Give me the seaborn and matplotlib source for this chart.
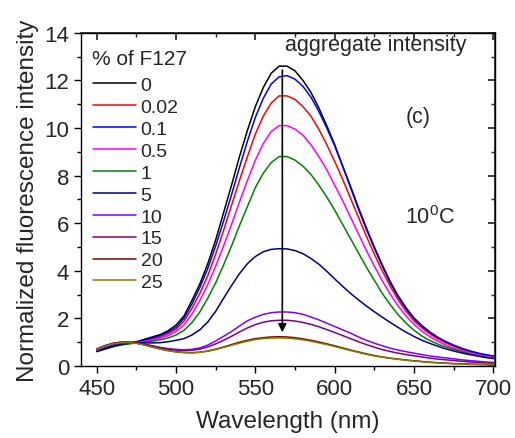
import numpy as np
import pandas as pd
import matplotlib
matplotlib.use("Agg")
import matplotlib.pyplot as plt
import seaborn as sns
from matplotlib.ticker import MultipleLocator

sns.set_theme(style="ticks")
plt.rcParams['font.family'] = ['Liberation Sans', 'DejaVu Sans']
plt.rcParams['mathtext.default'] = 'regular'

wavelength = list(range(450, 701, 5))

conc_labels = ["0", "0.02", "0.1", "0.5", "1", "5", "10", "15", "20", "25"]
colors = ["#000000", "#ff0000", "#0000ff", "#ff00ff", "#008000",
          "#000080", "#8000ff", "#800080", "#800000", "#808000"]

i_0 = [0.66, 0.76, 0.86, 0.93, 0.97, 1.02, 1.12, 1.22, 1.32, 1.48, 1.72, 2.1, 2.75, 3.45, 4.3, 5.3,
       6.45, 7.6, 8.8, 9.9, 10.9, 11.7, 12.3, 12.6, 12.6, 12.4, 12.0, 11.5, 10.85, 10.1, 9.3,
       8.4, 7.5, 6.6, 5.75, 4.95, 4.2, 3.5, 2.9, 2.4, 1.98, 1.66, 1.4, 1.18, 1.0, 0.85, 0.72,
       0.62, 0.53, 0.46, 0.41]
i_002 = [0.62, 0.72, 0.82, 0.9, 0.95, 0.99, 1.06, 1.14, 1.23, 1.36, 1.55, 1.88, 2.42, 3.05, 3.8, 4.7,
         5.7, 6.75, 7.8, 8.8, 9.75, 10.5, 11.05, 11.35, 11.35, 11.2, 10.9, 10.5, 9.95, 9.3, 8.6,
         7.85, 7.05, 6.25, 5.45, 4.7, 4.0, 3.35, 2.78, 2.3, 1.9, 1.6, 1.35, 1.14, 0.97, 0.83,
         0.7, 0.6, 0.51, 0.44, 0.38]
i_01 = [0.64, 0.74, 0.84, 0.92, 0.96, 1.0, 1.08, 1.18, 1.28, 1.42, 1.63, 2.0, 2.6, 3.3, 4.1, 5.05,
        6.1, 7.2, 8.35, 9.45, 10.45, 11.25, 11.85, 12.15, 12.2, 12.05, 11.75, 11.3, 10.7, 10.0,
        9.25, 8.4, 7.55, 6.65, 5.8, 5.0, 4.25, 3.55, 2.95, 2.45, 2.02, 1.7, 1.43, 1.21, 1.03,
        0.88, 0.75, 0.64, 0.55, 0.48, 0.42]
i_05 = [0.62, 0.72, 0.82, 0.9, 0.95, 0.98, 1.03, 1.09, 1.17, 1.28, 1.45, 1.72, 2.18, 2.75, 3.42, 4.2,
        5.05, 5.95, 6.9, 7.8, 8.65, 9.35, 9.85, 10.1, 10.1, 9.95, 9.7, 9.3, 8.8, 8.25, 7.6,
        6.95, 6.25, 5.55, 4.85, 4.2, 3.58, 3.02, 2.52, 2.1, 1.75, 1.46, 1.23, 1.04, 0.88, 0.75,
        0.64, 0.55, 0.47, 0.41, 0.35]
i_1 = [0.6, 0.7, 0.8, 0.88, 0.93, 0.96, 1.0, 1.04, 1.1, 1.18, 1.3, 1.5, 1.82, 2.27, 2.85, 3.5,
       4.25, 5.05, 5.9, 6.7, 7.5, 8.1, 8.55, 8.8, 8.8, 8.65, 8.4, 8.05, 7.6, 7.1, 6.55, 5.95,
       5.35, 4.75, 4.15, 3.6, 3.05, 2.58, 2.15, 1.8, 1.5, 1.26, 1.07, 0.92, 0.8, 0.7, 0.6,
       0.51, 0.43, 0.37, 0.32]
i_5 = [0.62, 0.72, 0.82, 0.9, 0.95, 0.97, 0.97, 0.97, 0.98, 1.02, 1.08, 1.15, 1.3, 1.52, 1.85, 2.3,
       2.85, 3.38, 3.88, 4.3, 4.6, 4.8, 4.9, 4.93, 4.92, 4.85, 4.72, 4.52, 4.28, 3.98, 3.66,
       3.35, 3.05, 2.78, 2.52, 2.28, 2.05, 1.83, 1.62, 1.42, 1.24, 1.08, 0.95, 0.83, 0.72, 0.63,
       0.55, 0.48, 0.42, 0.36, 0.31]
i_10 = [0.72, 0.85, 0.95, 1.0, 1.0, 0.97, 0.92, 0.85, 0.78, 0.73, 0.7, 0.68, 0.7, 0.76, 0.88, 1.05,
        1.25, 1.45, 1.68, 1.9, 2.05, 2.17, 2.24, 2.27, 2.27, 2.24, 2.17, 2.06, 1.94, 1.8, 1.66,
        1.52, 1.38, 1.22, 1.08, 0.96, 0.85, 0.75, 0.67, 0.6, 0.54, 0.48, 0.42, 0.38, 0.34, 0.3,
        0.26, 0.23, 0.2, 0.17, 0.15]
i_15 = [0.7, 0.84, 0.94, 1.0, 1.0, 0.97, 0.91, 0.84, 0.77, 0.71, 0.67, 0.65, 0.66, 0.71, 0.8, 0.93,
        1.08, 1.25, 1.43, 1.6, 1.74, 1.84, 1.9, 1.92, 1.92, 1.89, 1.83, 1.75, 1.65, 1.53, 1.41,
        1.28, 1.15, 1.02, 0.9, 0.79, 0.69, 0.61, 0.54, 0.48, 0.43, 0.38, 0.33, 0.29, 0.26, 0.23,
        0.2, 0.17, 0.15, 0.13, 0.12]
i_20 = [0.7, 0.84, 0.94, 0.99, 0.99, 0.96, 0.89, 0.8, 0.72, 0.65, 0.6, 0.57, 0.56, 0.58, 0.63, 0.71,
        0.8, 0.9, 1.0, 1.08, 1.15, 1.19, 1.22, 1.23, 1.22, 1.19, 1.14, 1.08, 1.01, 0.93, 0.85,
        0.76, 0.67, 0.59, 0.51, 0.44, 0.38, 0.33, 0.29, 0.25, 0.22, 0.19, 0.16, 0.14, 0.12, 0.1,
        0.09, 0.08, 0.07, 0.06, 0.05]
i_25 = [0.68, 0.82, 0.93, 0.98, 0.98, 0.95, 0.88, 0.79, 0.71, 0.64, 0.59, 0.56, 0.55, 0.57, 0.62, 0.69,
        0.78, 0.87, 0.96, 1.04, 1.11, 1.15, 1.17, 1.18, 1.17, 1.14, 1.1, 1.04, 0.97, 0.9, 0.82,
        0.73, 0.65, 0.57, 0.49, 0.42, 0.37, 0.32, 0.28, 0.24, 0.21, 0.18, 0.15, 0.13, 0.11, 0.1,
        0.08, 0.07, 0.06, 0.05, 0.05]

series = [i_0, i_002, i_01, i_05, i_1, i_5, i_10, i_15, i_20, i_25]

rows = []
for lab, vals in zip(conc_labels, series):
    for w, v in zip(wavelength, vals):
        rows.append({"wavelength": w, "intensity": v, "conc": lab})
df = pd.DataFrame(rows)

fig = plt.figure(figsize=(5.15, 4.39), dpi=100)
ax = fig.add_axes([0.157, 0.164, 0.804, 0.759])

sns.lineplot(data=df, x="wavelength", y="intensity", hue="conc", hue_order=conc_labels,
             palette=dict(zip(conc_labels, colors)), linewidth=1.1, ax=ax, legend=False)

ax.set_xlim(440, 701)
ax.set_ylim(0, 14)
ax.xaxis.set_major_locator(MultipleLocator(50))
ax.xaxis.set_minor_locator(MultipleLocator(25))
ax.yaxis.set_major_locator(MultipleLocator(2))
ax.yaxis.set_minor_locator(MultipleLocator(1))
ax.tick_params(axis='both', which='both', direction='out', top=False, right=False,
               labelsize=16, color='black', width=1)
ax.tick_params(which='major', length=5)
ax.tick_params(which='minor', length=3)
sec_x = ax.secondary_xaxis('top')
sec_x.xaxis.set_major_locator(MultipleLocator(50))
sec_x.xaxis.set_minor_locator(MultipleLocator(25))
sec_x.tick_params(which='both', direction='in', labeltop=False)
sec_x.tick_params(which='major', length=5)
sec_x.tick_params(which='minor', length=3)
sec_y = ax.secondary_yaxis('right')
sec_y.yaxis.set_major_locator(MultipleLocator(2))
sec_y.yaxis.set_minor_locator(MultipleLocator(1))
sec_y.tick_params(which='both', direction='in', labelright=False)
sec_y.tick_params(which='major', length=5)
sec_y.tick_params(which='minor', length=3)
for s in ax.spines.values():
    s.set_color('black')
    s.set_linewidth(1)

ax.set_xlabel("Wavelength (nm)", fontsize=17.5, labelpad=8)
ax.set_ylabel("Normalized fluorescence intensity", fontsize=17.5, labelpad=4)

ax.annotate("", xy=(567, 1.3), xytext=(567, 12.55),
            arrowprops=dict(arrowstyle="-|>", color="black", lw=1.2, mutation_scale=12))
ax.text(568.5, 13.5, "aggregate intensity", fontsize=15.5, va="center", ha="left")
ax.text(644.5, 10.5, "(c)", fontsize=15.5, va="center", ha="left")
ax.text(644.5, 6.3, "10$^0$C", fontsize=15.5, va="center", ha="left")
ax.text(446.8, 12.9, "% of F127", fontsize=15, va="center", ha="left")

handles = [plt.Line2D([], [], color=c, lw=1.1) for c in colors]
leg = ax.legend(handles, conc_labels, loc="upper left",
                bbox_to_anchor=(0.029, 0.8685), frameon=False, fontsize=14,
                handlelength=2.2, handletextpad=0.25, borderpad=0,
                labelspacing=0.22, borderaxespad=0)

fig.savefig("out.png", dpi=100)
